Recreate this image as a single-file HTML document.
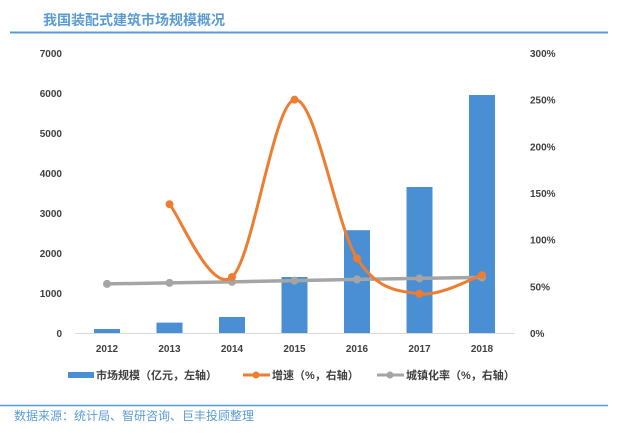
<!DOCTYPE html>
<html><head><meta charset="utf-8"><style>
body{margin:0;background:#fff;width:618px;height:431px;overflow:hidden;font-family:"Liberation Sans","Noto Sans CJK SC",sans-serif}
</style></head><body>
<svg id="c" width="618" height="431" xmlns="http://www.w3.org/2000/svg">
<text x="43" y="25" font-size="14" font-weight="bold" fill="#5b9bd5" font-family="Liberation Sans, Noto Sans CJK SC, sans-serif">我国装配式建筑市场规模概况</text>
<line x1="10" y1="32.5" x2="608" y2="32.5" stroke="#5b9bd5" stroke-width="2"/>
<line x1="0" y1="405.5" x2="608" y2="405.5" stroke="#5b9bd5" stroke-width="1.5"/>
<text x="14" y="420" font-size="12" fill="#5b9bd5" font-family="Liberation Sans, Noto Sans CJK SC, sans-serif">数据来源：统计局、智研咨询、巨丰投顾整理</text>
<g id="g"></g>
</svg>
<script>
const years=["2012","2013","2014","2015","2016","2017","2018"];
const marketSize=[100,260,400,1400,2570,3650,5950];
const growth=[null,138,60,250,80,42,62];
const urban=[52.6,53.7,54.8,56.1,57.4,58.5,59.6];
const leftTicks=[0,1000,2000,3000,4000,5000,6000,7000];
const rightTicks=[0,50,100,150,200,250,300];
const NS="http://www.w3.org/2000/svg";
const g=document.getElementById('g');
const x0=107,dx=62.5,yb=333,yt=53;
const xS=i=>x0+i*dx;
const yL=v=>yb-(v/7000)*(yb-yt);
const yR=v=>yb-(v/300)*(yb-yt);
function mk(t,a){const e=document.createElementNS(NS,t);for(const k in a)e.setAttribute(k,a[k]);g.appendChild(e);return e;}
leftTicks.forEach(v=>{const t=mk('text',{x:62,y:yL(v)+4,'font-size':10,'font-weight':'bold',fill:'#404040','text-anchor':'end'});t.textContent=v;

});
rightTicks.forEach(v=>{const t=mk('text',{x:530,y:yR(v)+4,'font-size':10,'font-weight':'bold',fill:'#404040'});t.textContent=v+'%';

});
const ax=mk('line',{x1:75,y1:yb+0.5,x2:515,y2:yb+0.5,stroke:'#d9d9d9','stroke-width':1});


years.forEach((y,i)=>{const t=mk('text',{x:xS(i),y:352,'font-size':10,'font-weight':'bold',fill:'#404040','text-anchor':'middle'});t.textContent=y;

});
marketSize.forEach((v,i)=>{const r=mk('rect',{x:xS(i)-13,y:yL(v),width:26,height:yb-yL(v),fill:'#4a8fd4'});

});
function smooth(pts){let d='M'+pts[0][0]+','+pts[0][1];for(let i=0;i<pts.length-1;i++){const p0=pts[i-1]||pts[i],p1=pts[i],p2=pts[i+1],p3=pts[i+2]||p2;
d+=' C'+(p1[0]+(p2[0]-p0[0])/6)+','+(p1[1]+(p2[1]-p0[1])/6)+' '+(p2[0]-(p3[0]-p1[0])/6)+','+(p2[1]-(p3[1]-p1[1])/6)+' '+p2[0]+','+p2[1];}return d;}
const up=urban.map((v,i)=>[xS(i),yR(v)]);
const ul=mk('path',{d:'M'+up.map(p=>p.join(',')).join(' L'),stroke:'#a5a5a5','stroke-width':3.5,fill:'none'});


up.forEach(p=>{const c=mk('circle',{cx:p[0],cy:p[1],r:4,fill:'#a5a5a5'});

});
const gp=[];growth.forEach((v,i)=>{if(v!==null)gp.push([xS(i),yR(v)]);});
const gl=mk('path',{d:smooth(gp),stroke:'#ed7d31','stroke-width':3,fill:'none'});


gp.forEach(p=>{const c=mk('circle',{cx:p[0],cy:p[1],r:4,fill:'#ed7d31'});

});
// legend
const lr=mk('rect',{x:68,y:372,width:26,height:6,fill:'#4a8fd4'});


const l1=mk('text',{x:96,y:379,'font-size':11,'font-weight':'bold',fill:'#404040'});l1.textContent='市场规模（亿元，左轴）';


const ll2=mk('line',{x1:243,y1:375,x2:270,y2:375,stroke:'#ed7d31','stroke-width':3});


const lc2=mk('circle',{cx:256,cy:375,r:3.5,fill:'#ed7d31'});


const l2=mk('text',{x:272,y:379,'font-size':11,'font-weight':'bold',fill:'#404040'});l2.textContent='增速（%，右轴）';


const ll3=mk('line',{x1:377,y1:375,x2:404,y2:375,stroke:'#a5a5a5','stroke-width':3});


const lc3=mk('circle',{cx:390,cy:375,r:3.5,fill:'#a5a5a5'});


const l3=mk('text',{x:406,y:379,'font-size':11,'font-weight':'bold',fill:'#404040'});l3.textContent='城镇化率（%，右轴）';


</script>
</body></html>
